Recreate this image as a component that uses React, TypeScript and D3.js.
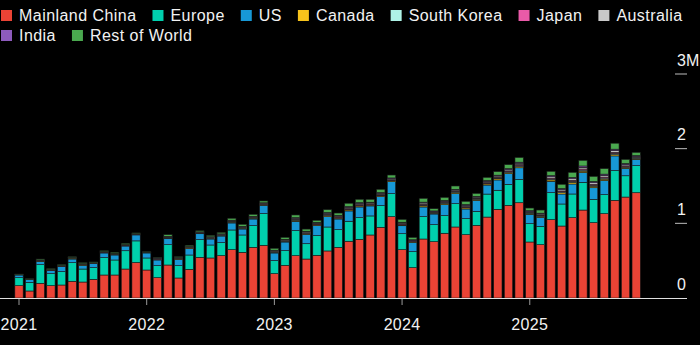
import React from "react";
import * as d3 from "d3";

// Monthly sales (thousands), Jan 2021 – Nov 2025
const months: string[] = (() => {
  const out: string[] = [];
  for (let y = 2021; y <= 2025; y++) {
    for (let m = 1; m <= 12; m++) {
      if (y === 2025 && m > 11) break;
      out.push(`${y}-${String(m).padStart(2, "0")}`);
    }
  }
  return out;
})();

const mainlandChina = [
  165, 94, 197, 165, 174, 224, 214, 250, 308, 308, 388, 475,
  375, 272, 442, 268, 384, 545, 536, 567, 647, 612, 679, 706,
  326, 438, 567, 522, 572, 630, 679, 760, 786, 844, 947, 1089,
  647, 406, 790, 754, 867, 951, 848, 973, 1084, 1188, 1241, 1276,
  750, 714, 1049, 964, 1076, 1178, 1009, 1129, 1308, 1352, 1410,
];
const europe = [
  107, 116, 249, 161, 179, 249, 174, 156, 232, 201, 245, 290,
  161, 161, 272, 165, 192, 236, 174, 174, 264, 232, 290, 424,
  174, 196, 335, 205, 264, 321, 236, 268, 290, 255, 290, 308,
  214, 214, 299, 228, 236, 312, 214, 187, 308, 255, 281, 312,
  245, 245, 362, 295, 317, 371, 312, 255, 398, 285, 362,
];
const us = [
  36, 35, 45, 40, 67, 49, 49, 54, 63, 67, 63, 80,
  67, 76, 80, 85, 85, 80, 80, 89, 94, 80, 89, 112,
  103, 116, 125, 125, 134, 138, 143, 138, 143, 134, 121, 161,
  107, 121, 130, 143, 147, 134, 130, 147, 121, 138, 143, 156,
  125, 121, 152, 134, 134, 130, 156, 188, 197, 98, 85,
];
const canada = [
  3, 2, 6, 5, 5, 12, 12, 6, 8, 10, 8, 6,
  4, 8, 8, 12, 10, 8, 8, 8, 10, 10, 10, 10,
  8, 8, 12, 10, 10, 14, 12, 14, 14, 12, 12, 12,
  10, 8, 15, 10, 14, 15, 15, 14, 15, 16, 16, 18,
  12, 14, 18, 18, 22, 20, 20, 20, 18, 15, 10,
];
const southKorea = [
  1, 1, 3, 2, 2, 2, 2, 2, 3, 3, 3, 2,
  1, 3, 5, 3, 4, 4, 5, 5, 6, 6, 6, 5,
  5, 5, 7, 6, 6, 8, 7, 8, 8, 7, 8, 7,
  7, 6, 10, 6, 8, 9, 9, 8, 9, 10, 10, 12,
  7, 8, 12, 11, 14, 14, 13, 14, 16, 10, 8,
];
const japan = [
  1, 1, 3, 3, 3, 3, 3, 2, 3, 3, 3, 2,
  2, 8, 8, 3, 5, 4, 7, 6, 8, 7, 7, 6,
  8, 7, 9, 8, 8, 10, 9, 11, 11, 9, 10, 9,
  9, 7, 12, 7, 10, 10, 10, 9, 10, 11, 12, 13,
  9, 10, 13, 12, 14, 15, 14, 14, 15, 10, 8,
];
const australia = [
  2, 2, 5, 4, 4, 4, 5, 3, 4, 5, 5, 4,
  2, 5, 8, 5, 6, 6, 7, 7, 9, 9, 9, 8,
  10, 10, 13, 11, 11, 14, 12, 15, 15, 13, 14, 13,
  12, 10, 16, 10, 13, 14, 14, 13, 14, 15, 16, 18,
  11, 13, 18, 17, 20, 22, 20, 21, 22, 16, 13,
];
const india = [
  0, 0, 1, 1, 1, 1, 1, 1, 1, 1, 1, 1,
  1, 2, 3, 2, 3, 3, 3, 3, 4, 4, 4, 4,
  6, 6, 8, 7, 7, 9, 8, 10, 10, 9, 10, 9,
  9, 8, 12, 8, 11, 11, 11, 10, 11, 12, 13, 14,
  10, 11, 15, 14, 17, 18, 17, 18, 19, 14, 11,
];
const restOfWorld = [
  6, 7, 13, 12, 12, 9, 13, 9, 12, 14, 16, 12,
  8, 10, 22, 11, 17, 15, 19, 20, 26, 27, 27, 25,
  26, 27, 36, 29, 29, 39, 32, 45, 45, 39, 44, 39,
  38, 32, 51, 30, 42, 44, 44, 40, 44, 48, 54, 63,
  36, 42, 58, 58, 69, 76, 68, 74, 80, 56, 44,
];

const seriesNames = [
  "Mainland China", "Europe", "US", "Canada", "South Korea",
  "Japan", "Australia", "India", "Rest of World",
];
const seriesValues = [
  mainlandChina, europe, us, canada, southKorea, japan, australia, india, restOfWorld,
];
const seriesColors = [
  "#ea4335", "#00d0ad", "#1798d6", "#f7c31b", "#aef2e6",
  "#ea5aa8", "#c9c9c9", "#8d5bbd", "#4aa84f",
];

const yTicks = [0, 1000, 2000, 3000];
const yTickLabels = ["0", "1", "2", "3M"];
const yearLabels = ["2021", "2022", "2023", "2024", "2025"];

const legendRowNames = [seriesNames.slice(0, 7), seriesNames.slice(7)];

const W = 700;
const H = 345;
const FONT = "'Liberation Sans', Arial, Helvetica, sans-serif";
const LEG_FONT_SIZE = 16;
const LEG_SPACING = 0.45;

function measure(text: string): number {
  const c = document.createElement("canvas").getContext("2d");
  if (!c) return text.length * 8.5;
  c.font = `${LEG_FONT_SIZE}px ${FONT}`;
  return c.measureText(text).width + LEG_SPACING * text.length;
}

export default function App() {
  const table = months.map((m, i) => {
    const row: Record<string, any> = { month: m };
    seriesNames.forEach((s, k) => (row[s] = seriesValues[k][i]));
    return row;
  });
  const stacked = d3.stack<Record<string, any>>().keys(seriesNames)(table);

  const step = 10.641;
  const x = d3
    .scaleBand<string>()
    .domain(months)
    .range([19 - step / 2, 19 + step * (months.length - 0.5)])
    .paddingInner(0.22)
    .paddingOuter(0.11);
  const y = d3.scaleLinear().domain([0, 3000]).range([298, 74]);

  const bw = x.bandwidth();

  const legendItems: { name: string; x: number; y: number }[] = [];
  legendRowNames.forEach((names, ri) => {
    let cx = 1;
    names.forEach((n) => {
      legendItems.push({ name: n, x: cx, y: 10 + ri * 20 });
      cx += 18 + measure(n) + 16;
    });
  });

  return (
    <svg
      width={W}
      height={H}
      style={{ position: "absolute", left: 0, top: 0, background: "#000", display: "block" }}
      fontFamily={FONT}
    >
      <rect x={0} y={0} width={W} height={H} fill="#000" />
      {/* legend */}
      {legendItems.map((it) => {
        const k = seriesNames.indexOf(it.name);
        return (
          <g key={it.name}>
            <rect x={it.x} y={it.y} width={11} height={11} fill={seriesColors[k]} />
            <text
              x={it.x + 18}
              y={it.y + 11}
              fill="#f2f2f2"
              fontSize={LEG_FONT_SIZE}
              letterSpacing={LEG_SPACING}
            >
              {it.name}
            </text>
          </g>
        );
      })}

      {/* y ticks */}
      {yTicks.map((t, i) => (
        <g key={t}>
          {t > 0 && (
            <line x1={675} x2={687} y1={y(t)} y2={y(t)} stroke="#bdbdbd" strokeWidth={1} />
          )}
          <text x={677} y={y(t) - 8.5} fill="#f2f2f2" fontSize={16}>
            {yTickLabels[i]}
          </text>
        </g>
      ))}

      {/* bars */}
      {stacked.map((layer, k) => (
        <g key={layer.key} fill={seriesColors[k]}>
          {layer.map((d, i) => {
            const y0 = y(d[0]);
            const y1 = y(d[1]);
            const h = y0 - y1;
            if (h <= 0) return null;
            return (
              <rect
                key={i}
                x={x(months[i])!}
                y={y1}
                width={bw}
                height={h}
                stroke="#1a1a1a"
                strokeWidth={0.6}
              />
            );
          })}
        </g>
      ))}

      {/* x axis */}
      <line x1={0} x2={687} y1={298.5} y2={298.5} stroke="#e0e0e0" strokeWidth={1.2} />
      {yearLabels.map((yr) => {
        const cx = x(`${yr}-01`)! + bw / 2;
        return (
          <g key={yr}>
            <line x1={cx} x2={cx} y1={299} y2={305} stroke="#9a9a9a" strokeWidth={1} />
            <text x={cx} y={330} textAnchor="middle" fill="#f2f2f2" fontSize={16} letterSpacing={0.3}>
              {yr}
            </text>
          </g>
        );
      })}
    </svg>
  );
}
